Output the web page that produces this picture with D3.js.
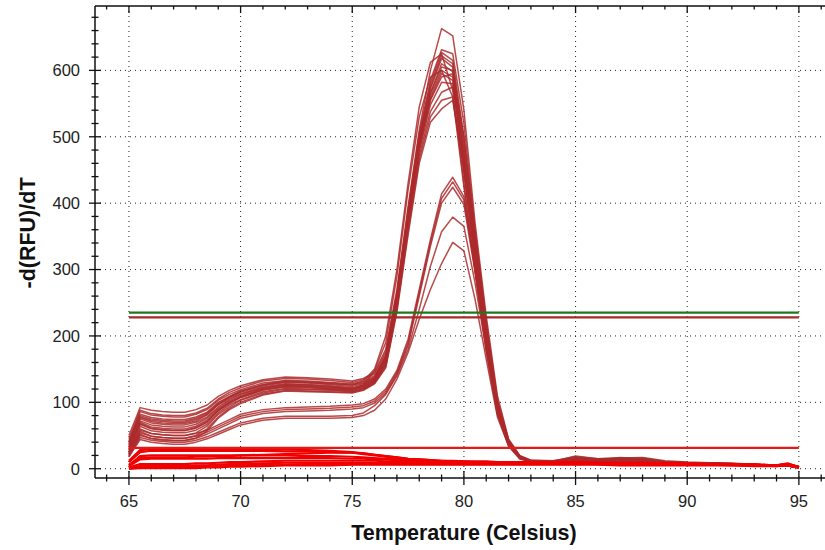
<!DOCTYPE html>
<html>
<head>
<meta charset="utf-8">
<script src="https://cdn.jsdelivr.net/npm/d3@7"></script>
<style>
  body { margin: 0; background: #fff; }
  text { font-family: "Liberation Sans", Arial, sans-serif; }
</style>
</head>
<body>
<svg id="melt"></svg>
<script>
// melt peak data, -d(RFU)/dT against temperature
let temps = [65, 65.5, 66, 66.5, 67, 67.5, 68, 68.5, 69, 69.5, 70, 71, 72, 73, 74, 75, 75.5, 76, 76.5, 77,
             77.5, 78, 78.5, 79, 79.5, 80, 80.5, 81, 81.5, 82, 82.5, 83, 84, 85, 86, 87, 88, 89, 90, 91,
             92, 93, 94, 94.5, 95];

// samples with a high peak
let peakHigh = [
  [50, 92, 88, 86, 85, 85, 89, 96, 109, 118, 125, 134, 138, 137, 135, 132, 136, 145, 180, 270, 395, 510, 600, 663, 652, 540, 370, 230, 110, 45, 20, 13, 12, 16, 14, 15, 13, 10, 9, 9, 8, 7, 5, 6, 3],
  [45, 88, 83, 81, 80, 80, 84, 91, 105, 115, 122, 132, 136, 135, 133, 130, 134, 143, 176, 265, 390, 505, 585, 631, 625, 520, 360, 222, 104, 43, 19, 12, 11, 14, 12, 13, 12, 9, 8, 8, 7, 6, 5, 5, 2],
  [40, 86, 81, 79, 78, 78, 82, 89, 103, 112, 119, 129, 133, 132, 130, 128, 131, 140, 172, 262, 385, 500, 580, 627, 615, 500, 350, 215, 98, 41, 18, 12, 12, 18, 15, 16, 14, 10, 9, 9, 8, 6, 5, 5, 2],
  [42, 82, 77, 75, 74, 74, 78, 85, 100, 109, 117, 126, 131, 130, 128, 126, 129, 138, 168, 258, 380, 495, 575, 622, 610, 480, 338, 205, 93, 39, 17, 11, 10, 13, 11, 12, 11, 9, 8, 8, 7, 6, 4, 5, 2],
  [38, 80, 75, 73, 72, 72, 76, 84, 98, 108, 115, 125, 130, 129, 127, 124, 128, 137, 170, 262, 385, 498, 572, 618, 605, 470, 330, 200, 94, 41, 18, 12, 11, 15, 13, 17, 15, 11, 9, 9, 8, 7, 5, 6, 2],
  [35, 78, 73, 71, 70, 70, 74, 82, 96, 106, 113, 123, 128, 127, 125, 122, 126, 135, 165, 255, 378, 490, 566, 610, 598, 455, 318, 190, 88, 38, 17, 11, 10, 12, 11, 12, 11, 9, 8, 7, 7, 6, 4, 4, 2],
  [33, 75, 69, 67, 66, 66, 70, 78, 93, 104, 112, 122, 127, 126, 124, 121, 125, 136, 168, 260, 382, 492, 565, 605, 600, 500, 355, 220, 102, 43, 19, 12, 11, 19, 15, 16, 17, 12, 10, 9, 8, 7, 5, 5, 2],
  [30, 72, 66, 64, 63, 63, 67, 76, 91, 102, 110, 121, 126, 125, 123, 120, 124, 134, 163, 252, 375, 488, 560, 600, 590, 460, 322, 192, 89, 38, 17, 11, 10, 13, 12, 13, 12, 9, 8, 8, 7, 6, 4, 4, 2],
  [28, 70, 63, 61, 60, 60, 64, 73, 89, 100, 108, 119, 124, 123, 121, 119, 123, 133, 162, 250, 372, 485, 556, 595, 585, 445, 310, 185, 86, 37, 16, 11, 10, 14, 12, 14, 13, 10, 9, 8, 7, 6, 5, 5, 2],
  [27, 67, 60, 58, 57, 57, 61, 70, 87, 98, 107, 118, 123, 122, 120, 118, 122, 132, 160, 248, 370, 482, 555, 590, 595, 490, 348, 212, 99, 42, 18, 12, 11, 12, 11, 12, 11, 9, 8, 8, 7, 6, 4, 4, 2],
  [25, 64, 57, 55, 54, 54, 58, 67, 84, 96, 104, 116, 121, 120, 119, 117, 121, 131, 158, 245, 366, 478, 548, 582, 580, 465, 326, 196, 91, 40, 17, 11, 10, 17, 14, 15, 16, 11, 9, 8, 8, 6, 5, 5, 2],
  [24, 60, 53, 51, 50, 50, 54, 64, 82, 93, 103, 114, 120, 119, 118, 116, 120, 130, 156, 242, 362, 472, 538, 567, 575, 475, 340, 206, 95, 40, 18, 12, 11, 13, 12, 13, 12, 10, 9, 8, 7, 6, 4, 5, 2],
  [22, 56, 49, 47, 46, 46, 50, 60, 78, 91, 100, 112, 118, 117, 116, 115, 119, 129, 154, 240, 358, 466, 530, 555, 560, 450, 318, 190, 88, 38, 17, 11, 10, 15, 13, 14, 13, 10, 9, 8, 7, 6, 5, 5, 2],
  [20, 52, 45, 43, 42, 42, 46, 57, 76, 89, 98, 111, 117, 116, 115, 114, 118, 128, 152, 236, 352, 460, 522, 542, 555, 455, 322, 193, 89, 39, 17, 11, 10, 12, 11, 12, 11, 9, 8, 7, 7, 6, 4, 4, 2],
  [36, 77, 71, 69, 68, 68, 72, 81, 97, 108, 116, 127, 132, 131, 129, 126, 132, 150, 200, 300, 430, 545, 612, 625, 570, 430, 300, 180, 84, 36, 16, 11, 10, 13, 11, 12, 11, 9, 8, 8, 7, 6, 4, 4, 2],
  [30, 68, 61, 59, 58, 58, 62, 71, 88, 100, 108, 120, 125, 124, 122, 120, 126, 148, 190, 290, 420, 530, 590, 600, 560, 425, 298, 178, 83, 36, 16, 11, 10, 14, 12, 13, 12, 10, 8, 8, 7, 6, 5, 5, 2]
];

// samples with a lower peak
let peakLow = [
  [24, 58, 53, 51, 50, 50, 53, 58, 66, 74, 82, 89, 92, 93, 94, 96, 98, 105, 120, 148, 195, 270, 345, 414, 439, 410, 305, 190, 88, 37, 16, 11, 10, 12, 11, 12, 11, 9, 8, 7, 7, 6, 4, 4, 2],
  [22, 54, 49, 47, 46, 46, 49, 55, 63, 71, 79, 86, 89, 90, 91, 93, 95, 102, 117, 145, 190, 265, 340, 407, 432, 405, 300, 187, 86, 36, 16, 11, 10, 13, 11, 12, 11, 9, 8, 7, 7, 6, 4, 4, 2],
  [20, 50, 46, 44, 43, 43, 46, 52, 60, 68, 76, 83, 86, 87, 88, 90, 92, 99, 114, 142, 186, 260, 335, 400, 424, 398, 296, 184, 85, 36, 16, 11, 10, 12, 11, 12, 11, 9, 8, 7, 7, 6, 4, 4, 2],
  [19, 47, 43, 41, 40, 40, 43, 48, 55, 62, 69, 76, 79, 79, 79, 80, 84, 95, 112, 140, 180, 240, 305, 357, 379, 365, 280, 178, 82, 35, 15, 10, 9, 11, 10, 11, 10, 8, 7, 7, 6, 5, 4, 4, 2],
  [18, 44, 40, 38, 37, 37, 40, 45, 52, 59, 66, 73, 76, 76, 76, 77, 80, 88, 105, 135, 175, 225, 270, 309, 341, 328, 255, 165, 78, 34, 15, 10, 9, 11, 10, 11, 10, 8, 7, 7, 6, 5, 4, 4, 2]
];

// samples without a product (red)
let noPeak = [
  [12, 28, 30, 30, 30, 30, 30, 30, 30, 30, 30, 29, 29, 28, 27, 25, 23, 21, 19, 17, 15, 14, 13, 12, 12, 11, 11, 11, 10, 10, 10, 10, 10, 10, 9, 9, 9, 8, 8, 7, 7, 6, 5, 7, 3],
  [10, 25, 27, 27, 27, 27, 27, 27, 27, 27, 27, 27, 26, 26, 25, 24, 22, 20, 18, 16, 14, 13, 12, 11, 11, 10, 10, 10, 10, 9, 9, 9, 9, 9, 9, 8, 8, 8, 7, 7, 6, 6, 5, 6, 3],
  [6, 16, 17, 17, 17, 17, 18, 18, 19, 19, 20, 21, 22, 23, 24, 24, 23, 21, 19, 17, 15, 14, 13, 12, 11, 11, 10, 10, 10, 10, 9, 9, 9, 9, 9, 8, 8, 8, 7, 7, 6, 6, 5, 7, 3],
  [5, 19, 20, 20, 20, 20, 20, 20, 20, 20, 20, 20, 20, 19, 19, 18, 17, 16, 15, 14, 13, 12, 12, 11, 11, 10, 10, 10, 9, 9, 9, 9, 9, 8, 8, 8, 8, 7, 7, 7, 6, 5, 5, 6, 2],
  [4, 14, 15, 15, 15, 15, 15, 15, 16, 16, 16, 16, 16, 16, 16, 15, 15, 14, 14, 13, 12, 12, 11, 11, 10, 10, 10, 9, 9, 9, 9, 9, 8, 8, 8, 8, 7, 7, 7, 6, 6, 5, 5, 6, 2],
  [2, 7, 7, 7, 7, 7, 8, 8, 9, 10, 10, 11, 12, 12, 12, 12, 12, 12, 11, 11, 11, 10, 10, 10, 10, 9, 9, 9, 9, 9, 8, 8, 8, 8, 8, 7, 7, 7, 7, 6, 6, 5, 5, 8, 2],
  [1, 4, 4, 4, 4, 4, 5, 5, 6, 7, 7, 8, 9, 9, 9, 9, 9, 9, 9, 9, 9, 9, 9, 9, 9, 9, 9, 8, 8, 8, 8, 8, 8, 8, 7, 7, 7, 7, 6, 6, 6, 5, 5, 7, 2],
  [0, 2, 2, 2, 2, 2, 3, 3, 4, 4, 5, 6, 6, 7, 7, 7, 7, 7, 7, 7, 7, 7, 7, 7, 7, 7, 7, 7, 7, 7, 7, 7, 7, 7, 7, 6, 6, 6, 6, 6, 5, 5, 4, 6, 1],
  [0, 1, 1, 1, 1, 1, 1, 2, 2, 3, 3, 4, 5, 5, 5, 6, 6, 6, 6, 6, 6, 6, 6, 6, 6, 6, 6, 6, 6, 6, 6, 6, 6, 6, 6, 5, 5, 5, 5, 5, 5, 4, 4, 5, 1]
];

// threshold lines (value, colour)
let thresholdValues = [235, 228, 31.5];
let thresholdColors = ["#1e781e", "#a52a2a", "#e41a1a"];
let thresholdSpan = [65, 95];

let xTicks = [65, 70, 75, 80, 85, 90, 95];
let yTicks = [0, 100, 200, 300, 400, 500, 600];

let width = 825; let height = 550;
let plot = {left: 95, right: 825, top: 6, bottom: 478};

let svg = d3.select("#melt")
  .attr("width", width)
  .attr("height", height);

let x = d3.scaleLinear().domain([63.48, 96.17]).range([plot.left, plot.right]);
let y = d3.scaleLinear().domain([-14, 697]).range([plot.bottom, plot.top]);

// dotted grid
svg.append("g").selectAll("line")
  .data(yTicks)
  .enter().append("line")
  .attr("x1", plot.left).attr("x2", plot.right)
  .attr("y1", d => y(d)).attr("y2", d => y(d))
  .attr("stroke", "#222").attr("stroke-width", 1)
  .attr("stroke-dasharray", "1,4")

svg.append("g").selectAll("line")
  .data(xTicks)
  .enter().append("line")
  .attr("x1", d => x(d)).attr("x2", d => x(d))
  .attr("y1", plot.top).attr("y2", plot.bottom)
  .attr("stroke", "#222").attr("stroke-width", 1)
  .attr("stroke-dasharray", "1,4")

// curves
let line = d3.line()
  .x((d, i) => x(temps[i]))
  .y(d => y(d));

svg.append("g").selectAll("path")
  .data(peakLow.concat(peakHigh))
  .enter().append("path")
  .attr("d", line)
  .attr("fill", "none")
  .attr("stroke", "#ab2a2c")
  .attr("stroke-width", 1.5)
  .attr("stroke-opacity", 0.85)
  .attr("stroke-linejoin", "round")

svg.append("g").selectAll("path")
  .data(noPeak)
  .enter().append("path")
  .attr("d", line)
  .attr("fill", "none")
  .attr("stroke", "#f00000")
  .attr("stroke-width", 2.2)
  .attr("stroke-linejoin", "round")

// thresholds
svg.append("g").selectAll("line")
  .data(thresholdValues)
  .enter().append("line")
  .attr("x1", x(thresholdSpan[0])).attr("x2", x(thresholdSpan[1]))
  .attr("y1", d => y(d)).attr("y2", d => y(d))
  .attr("stroke", (d, i) => thresholdColors[i])
  .attr("stroke-width", 2.2)

// frame: left, bottom and top lines
let axisColor = "#111";
svg.append("line")
  .attr("x1", plot.left).attr("x2", plot.left)
  .attr("y1", plot.top).attr("y2", plot.bottom)
  .attr("stroke", axisColor).attr("stroke-width", 1.5)
svg.append("line")
  .attr("x1", plot.left).attr("x2", plot.right)
  .attr("y1", plot.bottom).attr("y2", plot.bottom)
  .attr("stroke", axisColor).attr("stroke-width", 1.5)
svg.append("line")
  .attr("x1", plot.left).attr("x2", plot.right)
  .attr("y1", plot.top).attr("y2", plot.top)
  .attr("stroke", axisColor).attr("stroke-width", 1.5)

// y ticks, minor every 20 across the axis line
let yMinor = y.ticks(35).filter(d => d >= y.domain()[0] && d <= y.domain()[1]);
svg.append("g").selectAll("line")
  .data(yMinor)
  .enter().append("line")
  .attr("x1", d => d % 100 === 0 ? plot.left - 6 : plot.left - 3.5)
  .attr("x2", d => d % 100 === 0 ? plot.left + 6 : plot.left + 3.5)
  .attr("y1", d => y(d)).attr("y2", d => y(d))
  .attr("stroke", axisColor).attr("stroke-width", 1.3)

svg.append("g").selectAll("text")
  .data(yTicks)
  .enter().append("text")
  .attr("x", 80)
  .attr("y", d => y(d))
  .attr("dy", "0.36em")
  .attr("text-anchor", "end")
  .attr("font-size", 16.5)
  .attr("fill", "#222")
  .text(d => d)

// x ticks, minor every degree, on bottom and top
let xMinor = d3.range(64, 97);
svg.append("g").selectAll("line")
  .data(xMinor)
  .enter().append("line")
  .attr("x1", d => x(d)).attr("x2", d => x(d))
  .attr("y1", d => d % 5 === 0 ? plot.bottom - 7 : plot.bottom - 3.5)
  .attr("y2", d => d % 5 === 0 ? plot.bottom + 7 : plot.bottom + 3.5)
  .attr("stroke", axisColor).attr("stroke-width", 1.3)

svg.append("g").selectAll("line")
  .data(xMinor)
  .enter().append("line")
  .attr("x1", d => x(d)).attr("x2", d => x(d))
  .attr("y1", plot.top)
  .attr("y2", d => d % 5 === 0 ? plot.top + 7 : plot.top + 3.5)
  .attr("stroke", axisColor).attr("stroke-width", 1.3)

svg.append("g").selectAll("text")
  .data(xTicks)
  .enter().append("text")
  .attr("x", d => x(d))
  .attr("y", 507)
  .attr("text-anchor", "middle")
  .attr("font-size", 16.5)
  .attr("fill", "#222")
  .text(d => d)

// axis titles
svg.append("text")
  .attr("x", 464)
  .attr("y", 540)
  .attr("text-anchor", "middle")
  .attr("font-size", 21.5)
  .attr("font-weight", "bold")
  .attr("fill", "#111")
  .text("Temperature (Celsius)")

svg.append("text")
  .attr("transform", "translate(35,233) rotate(-90)")
  .attr("text-anchor", "middle")
  .attr("font-size", 21.5)
  .attr("font-weight", "bold")
  .attr("fill", "#111")
  .text("-d(RFU)/dT")
</script>
</body>
</html>
